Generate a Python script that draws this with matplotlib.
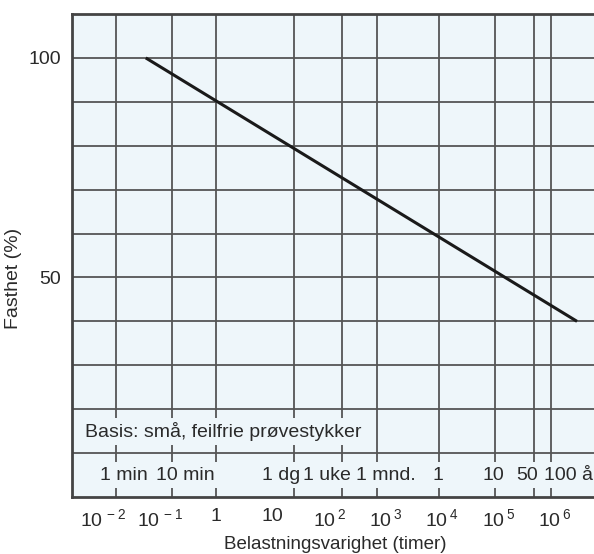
import numpy as np
import matplotlib
matplotlib.use('Agg')
import matplotlib.pyplot as plt
import matplotlib.transforms as mtransforms

plt.rcParams['font.family'] = ['Liberation Sans', 'DejaVu Sans']

# line: strength (%) against load duration (hours)
line_hours = [0.056, 2.5e6]
line_strength = [100, 40]

# vertical grid lines at these durations (hours)
grid_hours = [1/60, 1/6, 1, 24, 168, 720, 8760, 87600, 438000, 876000]
band_labels = ['1 min', '10 min', '', '1 dg', '1 uke', '1 mnd.', '1', '10', '50', '100 år']
band_shift_px = [8, 13, 0, -13, -15, 8, -1, -2, -7, -7]

grid_levels = [10, 20, 30, 40, 50, 60, 70, 80, 90, 100]
ytick_vals = [50, 100]

xtick_vals = [1e-2, 1e-1, 1, 10, 1e2, 1e3, 1e4, 1e5, 1e6]
xtick_labels = [r'$\mathregular{10^{\,-2}}$', r'$\mathregular{10^{\,-1}}$', '1', '10',
                r'$\mathregular{10^{\,2}}$', r'$\mathregular{10^{\,3}}$', r'$\mathregular{10^{\,4}}$',
                r'$\mathregular{10^{\,5}}$', r'$\mathregular{10^{\,6}}$']

bg = '#eef6fa'
gridc = '#555555'
txtc = '#2a2a2a'
fs = 14

fig = plt.figure(figsize=(5.94, 5.54), dpi=100)
ax = fig.add_axes([72/594, 1 - 497/554, (598 - 72)/594, (497 - 14)/554])
ax.set_facecolor(bg)
ax.set_xscale('log')
ax.set_xlim(10**-2.56, 10**6.77)
ax.set_ylim(0, 110)

for h in grid_hours:
    ax.axvline(h, color=gridc, lw=1.3, zorder=1)
for g in grid_levels:
    ax.axhline(g, color=gridc, lw=1.3, zorder=1)

ax.plot(line_hours, line_strength, color='#1a1a1a', lw=2.2, solid_capstyle='butt', zorder=5)

# text in the two bands at the bottom; boxes hide the grid lines behind them
box = dict(facecolor=bg, edgecolor='none', pad=3)
trans = mtransforms.blended_transform_factory(ax.transAxes, ax.transData)
ax.text(0.025, 15, 'Basis: små, feilfrie prøvestykker', transform=trans, fontsize=fs,
        color=txtc, ha='left', va='center', bbox=box, zorder=3)

# first the boxes only, then the labels on top so no box hides a neighbour
for layer in (0, 1):
    for h, lab, dx in zip(grid_hours, band_labels, band_shift_px):
        if lab == '':
            continue
        ha = 'left' if lab.endswith('år') else 'center'
        kw = dict(bbox=box, color=(0, 0, 0, 0), zorder=2) if layer == 0 else dict(color=txtc, zorder=3)
        ax.annotate(lab, (h, 5), xytext=(dx * 0.72, 0), textcoords='offset points',
                    fontsize=fs, ha=ha, va='center', annotation_clip=False, **kw)

ax.set_xticks(xtick_vals)
ax.set_xticklabels(xtick_labels)
ax.xaxis.set_minor_locator(matplotlib.ticker.NullLocator())
ax.set_yticks(ytick_vals)
ax.tick_params(length=0, labelsize=fs, labelcolor=txtc)
ax.tick_params(axis='x', pad=8)
ax.tick_params(axis='y', pad=8)

for s in ['left', 'top', 'bottom']:
    ax.spines[s].set_color('#444444')
    ax.spines[s].set_linewidth(2)
ax.spines['right'].set_visible(False)

ax.set_xlabel('Belastningsvarighet (timer)', fontsize=13.5, color=txtc, labelpad=4)
ax.set_ylabel('Fasthet (%)', fontsize=fs, color=txtc)
ax.yaxis.set_label_coords(-0.095, 0.453)

fig.savefig('out.png', dpi=100)
